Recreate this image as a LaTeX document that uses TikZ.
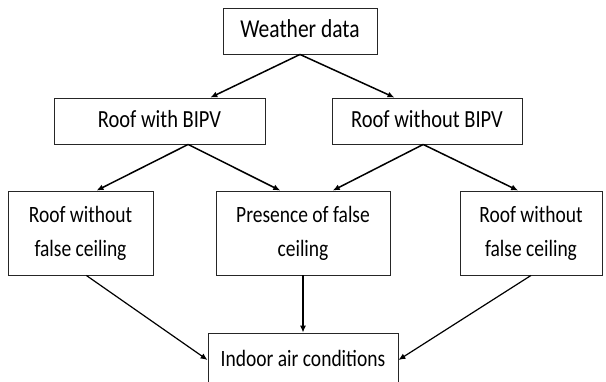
\documentclass[tikz,border=0pt]{standalone}
\usepackage{fontspec}
\setmainfont{Carlito}
\usetikzlibrary{arrows.meta,calc}
\newcommand{\tallbox}[1]{\scalebox{1}[1.2]{\begin{tabular}{@{}c@{}}#1\end{tabular}}}

\begin{document}
\begin{tikzpicture}[x=1pt,y=-1pt]
  \tikzset{flow box/.style={draw=black!85,line width=0.9pt,rectangle,align=center,inner sep=0pt,
      font=\fontsize{19.5}{28}\selectfont},
    flow arrow/.style={-{Latex[length=7pt,width=6pt]},line width=1.5pt}}%
  \useasboundingbox (0,0) rectangle (606,381);

  \node [flow box,minimum width=154pt,minimum height=46pt,font=\fontsize{21.5}{28}\selectfont] (weather) at (300,31) {\tallbox{Weather data}};
  \node [flow box,minimum width=211pt,minimum height=46pt,font=\fontsize{20.5}{28}\selectfont] (withbipv) at (159.5,121) {\tallbox{Roof with BIPV}};
  \node [flow box,minimum width=190pt,minimum height=46pt,font=\fontsize{20.5}{28}\selectfont] (nobipv) at (427,121) {\tallbox{Roof without BIPV}};

  \node [flow box,minimum width=145pt,minimum height=84pt] (noceilA) at (80.5,233) {\tallbox{Roof without\\ false ceiling}};
  \node [flow box,minimum width=174pt,minimum height=84pt] (ceiling) at (303,233) {\tallbox{Presence of false\\ ceiling}};
  \node [flow box,minimum width=142pt,minimum height=84pt] (noceilB) at (531,233) {\tallbox{Roof without\\ false ceiling}};

  \node [flow box,minimum width=190pt,minimum height=54pt] (indoor) at (303,360) {\tallbox{Indoor air conditions}};

  \draw [flow arrow] (weather.south) -- ($(withbipv.north west)!0.74!(withbipv.north east)$);
  \draw [flow arrow] (weather.south) -- ($(nobipv.north west)!0.33!(nobipv.north east)$);

  \draw [flow arrow] ($(withbipv.south west)!0.635!(withbipv.south east)$) -- ($(noceilA.north west)!0.61!(noceilA.north east)$);
  \draw [flow arrow] ($(withbipv.south west)!0.635!(withbipv.south east)$) -- ($(ceiling.north west)!0.37!(ceiling.north east)$);
  \draw [flow arrow] ($(nobipv.south west)!0.48!(nobipv.south east)$) -- ($(ceiling.north west)!0.67!(ceiling.north east)$);
  \draw [flow arrow] ($(nobipv.south west)!0.48!(nobipv.south east)$) -- ($(noceilB.north west)!0.41!(noceilB.north east)$);

  \draw [flow arrow,line width=1.2pt] ($(noceilA.south west)!0.54!(noceilA.south east)$) -- (indoor.west);
  \draw [flow arrow,line width=1.2pt] (ceiling.south) -- (indoor.north);
  \draw [flow arrow,line width=1.2pt] (noceilB.south) -- (indoor.east);
\end{tikzpicture}
\end{document}
